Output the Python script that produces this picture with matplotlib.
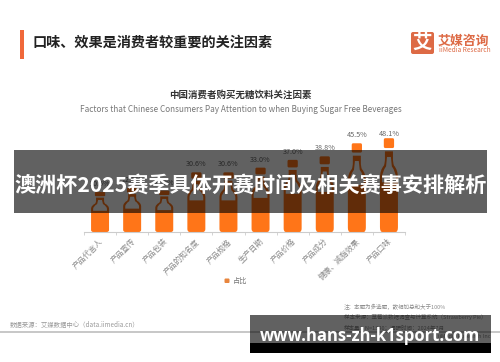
import matplotlib
matplotlib.use('Agg')
from matplotlib import pyplot as plt
from matplotlib.patches import PathPatch, Rectangle, FancyBboxPatch
from matplotlib.path import Path

plt.rcParams['font.family'] = ['Noto Sans CJK SC', 'DejaVu Sans']

categories = ['产品代言人', '产品宣传', '产品包装', '产品的知名度', '产品规格',
              '生产日期', '产品价格', '产品成分', '健康、减脂效果', '产品口味']
values = [20.5, 22.6, 21.2, 30.6, 30.6, 33.0, 37.0, 38.8, 45.5, 48.1]

source = '数据来源\uff1a艾媒数据中心\uff08data.iimedia.cn\uff09'
notes = ['注\uff1a本题为多选题\uff0c故相加总和大于100%',
         '样本来源\uff1a草莓派数据调查与计算系统\uff08Strawberry Pie\uff09',
         '样本量\uff1aN=1340\uff1b调研时间\uff1a2024年7月']
note_rows = [307, 317.5, 327.5]

ORANGE = '#FF7518'
RED = '#DD6A45'
GREY = '#8A8A8A'


def bottle(x, value):
    # bottle stretched to the value, width fixed in x units
    hw, nw, cw, iw, inw = 0.28, 0.125, 0.16, 0.215, 0.06
    v = value
    verts, codes = [], []

    def add(points):
        for code, px, py in points:
            verts.append((x + px, py * v))
            codes.append(code)

    L, C, M, E = Path.LINETO, Path.CURVE3, Path.MOVETO, Path.CLOSEPOLY
    # body and neck
    add([(M, -hw + 0.07, 0), (L, hw - 0.07, 0), (C, hw, 0), (C, hw, 0.05),
         (L, hw, 0.58), (C, hw, 0.66), (C, nw + 0.03, 0.71),
         (C, nw, 0.74), (C, nw, 0.78), (L, nw, 0.86),
         (L, -nw, 0.86), (L, -nw, 0.78), (C, -nw, 0.74), (C, -nw - 0.03, 0.71),
         (C, -hw, 0.66), (C, -hw, 0.58), (L, -hw, 0.05), (C, -hw, 0), (C, -hw + 0.07, 0),
         (E, 0, 0)])
    # window, drawn the other way round so it stays a hole
    add([(M, -iw, 0.53), (L, -iw, 0.58), (C, -iw, 0.64), (C, -inw - 0.03, 0.70),
         (L, -inw, 0.80), (L, inw, 0.80), (L, inw + 0.03, 0.70),
         (C, iw, 0.64), (C, iw, 0.58), (L, iw, 0.53), (E, 0, 0)])
    # cap with rounded corners
    add([(M, -cw + 0.04, 0.895), (L, cw - 0.04, 0.895), (C, cw, 0.895), (C, cw, 0.915),
         (L, cw, 0.98), (C, cw, 1.0), (C, cw - 0.04, 1.0),
         (L, -cw + 0.04, 1.0), (C, -cw, 1.0), (C, -cw, 0.98),
         (L, -cw, 0.915), (C, -cw, 0.895), (C, -cw + 0.04, 0.895), (E, 0, 0)])
    return Path(verts, codes)


fig = plt.figure(figsize=(5, 3.62), dpi=100)

# page layer in pixel coordinates
bg = fig.add_axes([0, 0, 1, 1], zorder=0)
bg.set_xlim(0, 500)
bg.set_ylim(362, 0)
bg.axis('off')

bg.add_patch(Rectangle((20, 30), 4, 29, color='#F0683A', lw=0))
bg.text(32, 43, '口味、效果是消费者较重要的关注因素', fontsize=10.2, fontweight='bold',
        color='#222222', va='center')

bg.add_patch(FancyBboxPatch((413, 34), 19, 18, boxstyle='round,pad=2', color=RED, lw=0))
bg.text(422.5, 43, '艾', fontsize=14, fontweight='bold', color='white', ha='center', va='center')
bg.text(438, 40.5, '艾媒咨询', fontsize=9.3, fontweight='bold', color=RED, va='center')
bg.text(439, 50.5, 'iiMedia Research', fontsize=4.7, color=RED, va='center')

bg.text(240.5, 94.5, '中国消费者购买无糖饮料关注因素', fontsize=6.8, fontweight='bold',
        color='#333333', ha='center', va='center')
bg.text(240.5, 110, 'Factors that Chinese Consumers Pay Attention to when Buying Sugar Free Beverages',
        fontsize=5.9, color='#777777', ha='center', va='center')

bg.add_patch(FancyBboxPatch((225.5, 279.5), 3, 2.5, boxstyle='round,pad=1', color='#E8853D', lw=0))
bg.text(233, 281, '占比', fontsize=5.2, color='#777777', va='center')

bg.text(10, 325, source, fontsize=4.6, color='#9A9A9A', va='center')
for note, row in zip(notes, note_rows):
    bg.text(344, row, note, fontsize=4.0, color='#8C8C8C', va='center')
bg.text(491, 337, 'iiMedia Research Inc', fontsize=4.0, color='#8C8C8C', ha='right', va='center')
bg.plot([0, 500], [332, 332], color='#BDBDBD', lw=1.2)

# chart, baseline at y=232px, 1.95px per percent
ax = fig.add_axes([84 / 500, (362 - 232) / 362, 321 / 500, 112 / 362], zorder=1)
ax.patch.set_alpha(0)
ax.set_xlim(-0.5, len(values) - 0.5)
ax.set_ylim(0, 112 / 1.95)
for side in ['top', 'left', 'right']:
    ax.spines[side].set_visible(False)
ax.spines['bottom'].set_color('#CCCCCC')
ax.spines['bottom'].set_linewidth(0.8)
ax.set_yticks([])
ax.set_xticks([i - 0.5 for i in range(len(values) + 1)])
ax.set_xticklabels([])
ax.tick_params(axis='x', length=2.5, width=0.6, color='#CCCCCC')

for i, (name, v) in enumerate(zip(categories, values)):
    ax.add_patch(PathPatch(bottle(i, v), facecolor=ORANGE, edgecolor='none'))
    # the tallest label sits closer to its cap
    dy = 2.7 if v == max(values) else 5.8
    ax.annotate(f'{v:.1f}%', (i, v), xytext=(0, dy), textcoords='offset points',
                ha='center', va='center', fontsize=5.2, color='#666666')
    ax.annotate(name, (i, 0), xytext=(1.5, -6), textcoords='offset points',
                rotation=45, rotation_mode='anchor', ha='right', va='center',
                fontsize=5.6, color=GREY)

# site banners over everything
top = fig.add_axes([0, 0, 1, 1], zorder=2)
top.set_xlim(0, 500)
top.set_ylim(362, 0)
top.axis('off')
top.add_patch(Rectangle((14, 150), 473, 63, color='black', alpha=0.62, lw=0))
top.text(250.5, 185, '澳洲杯2025赛季具体开赛时间及相关赛事安排解析', fontsize=15.2,
         fontweight='bold', color='white', ha='center', va='center')
top.add_patch(Rectangle((250, 315), 241, 28, color='black', alpha=0.62, lw=0))
top.add_patch(Rectangle((250, 343), 241, 10, color='black', lw=0))
top.text(370, 336, 'www.hans-zh-k1sport.com', family='Open Sans', fontsize=12, fontweight='bold',
         color='white', ha='center', va='center')

fig.savefig('out.png', dpi=100)
